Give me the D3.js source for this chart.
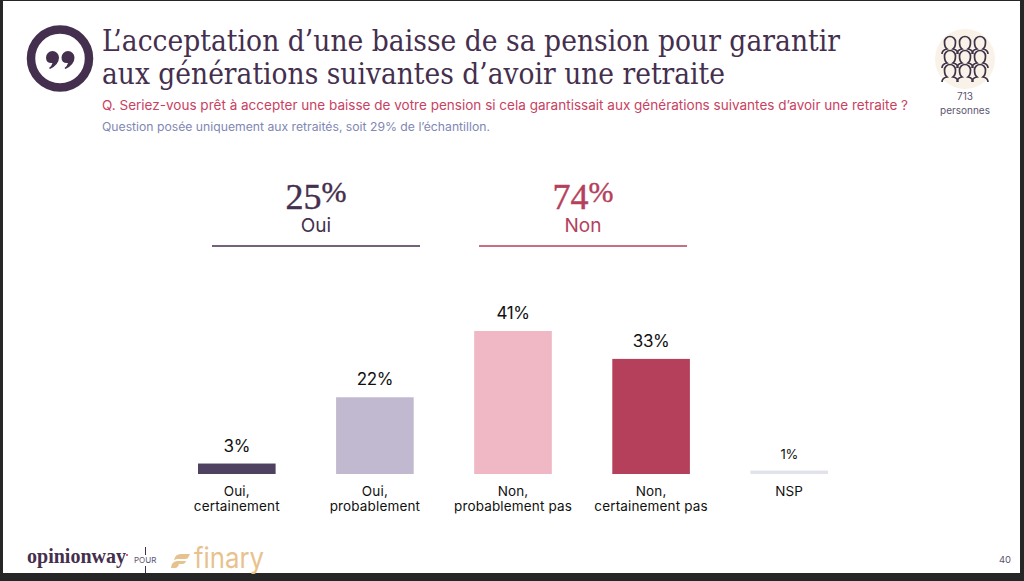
<!DOCTYPE html>
<html>
<head>
<meta charset="utf-8">
<script src="https://cdn.jsdelivr.net/npm/d3@7"></script>
<style>
  html, body { margin: 0; padding: 0; background: #262626; overflow: hidden; }
  svg { display: block; }
  .serif { font-family: "Liberation Serif", serif; }
  .title { font-family: "DejaVu Serif", serif; }
  .sans { font-family: "Inter", "Open Sans", sans-serif; }
</style>
</head>
<body>
<div id="chart"></div>
<script>
var categories = ["Oui, certainement", "Oui, probablement", "Non, probablement pas", "Non, certainement pas", "NSP"];
var labelLines = [["Oui,", "certainement"], ["Oui,", "probablement"], ["Non,", "probablement pas"], ["Non,", "certainement pas"], ["NSP"]];
var values = [3, 22, 41, 33, 1];
var barColors = ["#4f4160", "#c1b9cf", "#f0b7c4", "#b4405b", "#e2e2ec"];
var summaryValues = [25, 74];
var summaryLabels = ["Oui", "Non"];
var summaryColors = ["#452f4e", "#b4405b"];
var titleLines = ["L’acceptation d’une baisse de sa pension pour garantir", "aux générations suivantes d’avoir une retraite"];
var question = "Q. Seriez-vous prêt à accepter une baisse de votre pension si cela garantissait aux générations suivantes d’avoir une retraite ?";
var note = "Question posée uniquement aux retraités, soit 29% de l’échantillon.";

var svg = d3.select("#chart").append("svg").attr("width", 1024).attr("height", 581);

// slide background
svg.append("rect").attr("width", 1024).attr("height", 581).attr("fill", "#262626");
svg.append("rect").attr("x", 3).attr("y", 1).attr("width", 1017).attr("height", 572).attr("fill", "#fff");

// quote icon
var quote = svg.append("g").attr("transform", "translate(60,58.5)");
quote.append("circle").attr("r", 29).attr("fill", "none").attr("stroke", "#452f4e").attr("stroke-width", 8.5);
[-7.5, 8].forEach(function(dx) {
  quote.append("path")
    .attr("d", "M" + (dx - 6.5) + ",-1 a6.5,6.5 0 1 1 13,0 q0,7 -9,11.5 l-1,-1 q3,-2.5 3.5,-5 q-6.5,0.5 -6.5,-5.5z")
    .attr("fill", "#452f4e");
});

// title block
svg.selectAll(".title").data(titleLines).enter().append("text")
  .attr("class", "title")
  .attr("x", 102).attr("y", function(d, i) { return 51 + i * 33; })
  .attr("font-size", 29).attr("fill", "#452f4e")
  .attr("textLength", function(d, i) { return i == 0 ? 738 : 623; })
  .attr("lengthAdjust", "spacingAndGlyphs")
  .text(function(d) { return d; });
svg.append("text").attr("class", "sans").attr("x", 102).attr("y", 110)
  .attr("font-size", 13).attr("fill", "#c9415f").attr("textLength", 806)
  .attr("lengthAdjust", "spacingAndGlyphs").text(question);
svg.append("text").attr("class", "sans").attr("x", 102).attr("y", 131)
  .attr("font-size", 11.5).attr("fill", "#7f87b4").attr("textLength", 388)
  .attr("lengthAdjust", "spacingAndGlyphs").text(note);

// respondents badge
var badge = svg.append("g").attr("transform", "translate(965,59)");
badge.append("circle").attr("r", 30).attr("fill", "#f9f2e8");
d3.range(3).forEach(function(row) {
  d3.range(3).forEach(function(col) {
    var px = -15 + col * 15, py = -17 + row * 14;
    badge.append("path")
      .attr("d", "M" + (px - 8) + "," + (py + 12) + " q0,-4 5,-5 c-2,-1.5 -2.5,-5 -2.5,-7 a5.5,5.5 0 0 1 11,0 c0,2 -0.5,5.5 -2.5,7 q5,1 5,5")
      .attr("fill", "none").attr("stroke", "#3f3347").attr("stroke-width", 1.7);
  });
});
svg.selectAll(".badge-label").data(["713", "personnes"]).enter().append("text")
  .attr("class", "sans").attr("x", 965).attr("y", function(d, i) { return 100 + i * 14; })
  .attr("text-anchor", "middle").attr("font-size", 10).attr("fill", "#5c5470").text(function(d) { return d; });

// summary totals
var summaryX = [316, 583], summaryW = 208;
summaryValues.forEach(function(v, i) {
  var t = svg.append("text").attr("class", "serif").attr("x", summaryX[i]).attr("y", 209)
    .attr("text-anchor", "middle").attr("font-size", 36).attr("fill", summaryColors[i])
    .attr("stroke", summaryColors[i]).attr("stroke-width", 0.4);
  t.append("tspan").text(v);
  t.append("tspan").attr("font-size", 30).attr("dy", -7).text("%");
  svg.append("text").attr("class", "sans").attr("x", summaryX[i]).attr("y", 232)
    .attr("text-anchor", "middle").attr("font-size", 19).attr("fill", summaryColors[i]).text(summaryLabels[i]);
  svg.append("line").attr("x1", summaryX[i] - summaryW / 2).attr("x2", summaryX[i] + summaryW / 2)
    .attr("y1", 246).attr("y2", 246).attr("stroke", summaryColors[i]).attr("stroke-width", 1.6);
});

// bars
var x = d3.scaleBand().domain(categories).range([198, 828]).paddingInner(0.438);
var y = d3.scaleLinear().domain([0, 41]).range([474, 331]);

svg.selectAll(".bar").data(categories).enter().append("rect")
  .attr("class", "bar")
  .attr("x", function(d) { return x(d); })
  .attr("y", function(d, i) { return y(values[i]); })
  .attr("width", x.bandwidth())
  .attr("height", function(d, i) { return y(0) - y(values[i]); })
  .attr("fill", function(d, i) { return barColors[i]; });

svg.selectAll(".val").data(categories).enter().append("text")
  .attr("class", "val sans")
  .attr("x", function(d) { return x(d) + x.bandwidth() / 2; })
  .attr("y", function(d, i) { return y(values[i]) - 12; })
  .attr("text-anchor", "middle")
  .attr("font-size", function(d, i) { return values[i] == 1 ? 13 : 17; })
  .attr("letter-spacing", -0.4)
  .attr("fill", "#111")
  .text(function(d, i) { return values[i] + "%"; });

categories.forEach(function(c, i) {
  labelLines[i].forEach(function(line, j) {
    svg.append("text").attr("class", "sans")
      .attr("x", x(c) + x.bandwidth() / 2).attr("y", 496 + j * 15)
      .attr("text-anchor", "middle").attr("font-size", 13.5).attr("letter-spacing", 0.15)
      .attr("fill", "#111").text(line);
  });
});

// footer logos
svg.append("text").attr("class", "serif").attr("x", 27).attr("y", 563)
  .attr("font-size", 22).attr("font-weight", "bold").attr("fill", "#452f4e")
  .attr("textLength", 99).attr("lengthAdjust", "spacingAndGlyphs").text("opinionway");
svg.append("circle").attr("cx", 127).attr("cy", 555).attr("r", 1.1).attr("fill", "#c9415f");
svg.append("text").attr("class", "sans").attr("x", 134).attr("y", 563)
  .attr("font-size", 8).attr("fill", "#5c5470").text("POUR");
svg.append("line").attr("x1", 145.5).attr("x2", 145.5).attr("y1", 547).attr("y2", 555).attr("stroke", "#452f4e");
svg.append("line").attr("x1", 145.5).attr("x2", 145.5).attr("y1", 566).attr("y2", 573).attr("stroke", "#452f4e");
svg.append("path").attr("d", "M174,560 q1,-6 7,-6 h9 l-2,4 q-1,1 -3,1 h-8z M171,568 q0,-6 6,-7 h9 l-1,2 q-1,1 -3,1 h-3 q-1,4 -4,4z").attr("fill", "#e8c28e");
svg.append("text").attr("class", "sans").attr("x", 194).attr("y", 568)
  .attr("font-size", 28).attr("fill", "#e8c28e").attr("textLength", 70)
  .attr("lengthAdjust", "spacingAndGlyphs").text("finary");

svg.append("text").attr("class", "sans").attr("x", 1005).attr("y", 563)
  .attr("text-anchor", "middle").attr("font-size", 9.5).attr("fill", "#5c5470").text("40");
</script>
</body>
</html>
